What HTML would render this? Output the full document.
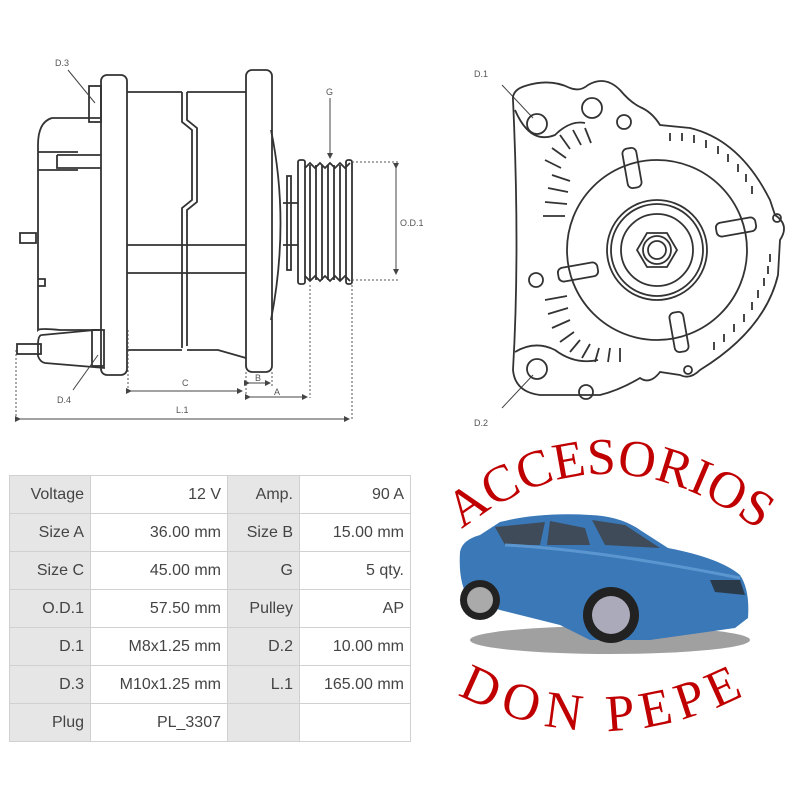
<!DOCTYPE html>
<html><head><meta charset="utf-8"><style>
html,body{margin:0;padding:0;background:#fff;width:800px;height:800px;overflow:hidden}
svg{display:block}
.l{fill:none;stroke:#333;stroke-width:1.8}
.t{font-family:"Liberation Sans",sans-serif;font-size:9px;fill:#555}
.d{fill:none;stroke:#555;stroke-width:1;stroke-dasharray:2 2}
.dm{stroke:#444;stroke-width:1;fill:none}
.tab td{font-family:"Liberation Sans",sans-serif;font-size:16px;color:#444;text-align:right;padding:0 6px;border:1px solid #d0d0d0;height:38px;box-sizing:border-box}
</style></head><body>
<svg width="800" height="800" viewBox="0 0 800 800" xmlns="http://www.w3.org/2000/svg" style="position:absolute;left:0;top:0">
<defs><marker id="ar" markerWidth="6" markerHeight="6" refX="5" refY="3" orient="auto"><path d="M0,0 L6,3 L0,6 z" fill="#444"/></marker></defs>
<g class="l">
<rect x="101" y="75" width="26" height="300" rx="6"/>
<rect x="246" y="70" width="26" height="302" rx="6"/>
<rect x="89" y="86" width="12" height="36"/>
<path d="M127,92 H182 M187,92 H246 M127,245 H246 M127,273 H246 M127,350 H182 M187,350 H218 L246,358"/>
<path d="M182,92 V122 L192,130 V200 L182,208 V348 M187,92 V120 L197,128 V202 L187,210 V346"/>
<path d="M101,118 H52 Q38,122 38,145 V330 Q40,328 60,330 H101"/>
<path d="M38,152 H78 M57,155 H101 M57,155 V168 H101 M38,170 H78"/>
<path d="M38,279 H45 V286 H38"/>
<rect x="20" y="233" width="16" height="10"/>
<path d="M42,335 Q38,335 38,345 V356 Q40,362 45,363 L105,368 M42,335 L95,330 H101"/>
<rect x="92" y="330" width="12" height="36"/>
<rect x="17" y="344" width="24" height="10"/>
<path d="M271,130 Q290,222 271,320"/>
<rect x="287" y="176" width="4" height="94"/>
<path d="M283,203 H298 M283,245 H298"/>
<rect x="298" y="160" width="7" height="124" rx="2"/>
<rect x="346" y="160" width="6" height="124" rx="2"/>
<path d="M305,168 l5,-5 5,5 5,-5 5,5 5,-5 5,5 5,-5 5,5 5,-5 M305,276 l5,5 5,-5 5,5 5,-5 5,5 5,-5 5,5 5,-5 5,5"/>
<path d="M310,165 V280 M316,165 V280 M322,165 V280 M328,165 V280 M334,165 V280 M340,165 V280"/>
</g>
<path class="d" d="M352,162 H400 M352,280 H400 M16,350 V420 M128,330 V392 M246,372 V400 M272,372 V388 M310,285 V398 M352,285 V420"/>
<path class="dm" d="M396,168 V274" marker-start="url(#ar)" marker-end="url(#ar)"/>
<path class="dm" d="M131,391 H242" marker-start="url(#ar)" marker-end="url(#ar)"/>
<path class="dm" d="M249,383 H270" marker-start="url(#ar)" marker-end="url(#ar)"/>
<path class="dm" d="M250,397 H307" marker-start="url(#ar)" marker-end="url(#ar)"/>
<path class="dm" d="M20,419 H349" marker-start="url(#ar)" marker-end="url(#ar)"/>
<path class="dm" d="M330,98 V158" marker-end="url(#ar)"/>
<path class="dm" d="M68,70 L95,103 M98,355 L73,390 M502,85 L533,118 M533,375 L502,408"/>
<text class="t" x="55" y="66">D.3</text><text class="t" x="326" y="95">G</text>
<text class="t" x="400" y="226">O.D.1</text><text class="t" x="57" y="403">D.4</text>
<text class="t" x="182" y="386">C</text><text class="t" x="255" y="381">B</text><text class="t" x="274" y="395">A</text>
<text class="t" x="176" y="413">L.1</text>
<text class="t" x="474" y="77">D.1</text><text class="t" x="474" y="426">D.2</text>
<g class="l">
<path d="M513,100 Q512,90 525,86 Q550,78 570,88 Q580,92 588,85 Q605,75 620,90 Q630,102 640,107 Q652,112 660,125 L690,128 Q740,140 770,200 L775,215 Q790,225 780,240 L778,275 Q765,330 700,370 Q690,380 680,375 L660,372 Q650,385 640,378 Q620,390 600,395 L540,395 Q515,392 513,370 Q520,250 513,100 Z"/>
<circle cx="537" cy="124" r="10"/><circle cx="537" cy="369" r="10"/>
<path d="M515,110 Q530,145 555,135 Q570,120 585,123"/>
<path d="M515,352 Q535,340 555,350 Q575,365 598,360"/>
<circle cx="592" cy="108" r="10"/><circle cx="624" cy="122" r="7"/>
<circle cx="536" cy="280" r="7"/><circle cx="586" cy="392" r="7" />
<circle cx="657" cy="250" r="90"/>
<circle cx="657" cy="250" r="50"/><circle cx="657" cy="250" r="46"/><circle cx="657" cy="250" r="36"/>
<polygon points="677,250 667,267 647,267 637,250 647,233 667,233"/>
<circle cx="657" cy="250" r="14"/><circle cx="657" cy="250" r="9"/>
<rect x="625" y="148" width="14" height="40" rx="5" transform="rotate(-10 632 168)"/>
<rect x="672" y="312" width="14" height="40" rx="5" transform="rotate(-10 679 332)"/>
<rect x="558" y="265" width="40" height="14" rx="5" transform="rotate(-10 578 272)"/>
<rect x="716" y="220" width="40" height="14" rx="5" transform="rotate(-10 736 227)"/>
<path d="M552,175 l18,6 M548,188 l20,4 M545,202 l22,2 M543,216 l22,0 M545,160 l16,8 M552,148 l14,10 M560,135 l10,14 M573,130 l8,15 M585,128 l6,15"/>
<path d="M545,300 l22,-4 M548,314 l20,-6 M552,328 l18,-8 M560,342 l14,-10 M570,352 l10,-12 M582,358 l8,-14 M595,362 l4,-14 M608,362 l2,-14 M620,362 l0,-14"/>
<path d="M670,133 v8 M682,133 v8 M694,135 v8 M706,140 v8 M718,146 v8 M728,154 v8 M738,164 v8 M746,174 v8 M752,186 v8 M758,298 v-8 M752,310 v-8 M744,322 v-8 M734,332 v-8 M724,342 v-8 M714,350 v-8 M764,286 v-8 M768,274 v-8 M770,262 v-8"/>
<circle cx="777" cy="218" r="4"/><circle cx="688" cy="370" r="4"/>
</g>
<ellipse cx="610" cy="640" rx="140" ry="14" fill="#777" opacity="0.7"/>
<path d="M460,552 Q462,540 480,535 L500,522 Q540,512 590,515 Q620,516 640,530 L668,548 Q720,558 740,575 Q750,590 748,618 L735,628 L650,640 L590,640 L560,625 L500,610 L470,600 Q458,585 460,552 Z" fill="#3a78b8"/>
<path d="M495,527 L505,545 L540,545 L545,522 Z M550,521 L547,545 L590,545 L585,528 Z M592,520 L605,545 L660,548 L625,525 Z" fill="#3f4b58"/>
<path d="M505,545 Q600,550 740,578" stroke="#5b96d0" stroke-width="3" fill="none"/>
<path d="M710,580 L740,580 L745,595 L715,592 Z" fill="#2a3a48"/>
<circle cx="480" cy="600" r="20" fill="#222"/><circle cx="480" cy="600" r="13" fill="#aaa"/>
<circle cx="611" cy="615" r="28" fill="#222"/><circle cx="611" cy="615" r="19" fill="#aab"/>
<path id="a1" d="M440,548 Q602,400 782,548" fill="none"/>
<path id="a2" d="M452,650 Q600,740 752,650" fill="none"/>
<text font-family="Liberation Serif,serif" font-size="52" fill="#c00000"><textPath href="#a1" startOffset="50%" text-anchor="middle">ACCESORIOS</textPath></text>
<text font-family="Liberation Serif,serif" font-size="52" fill="#c00000" letter-spacing="3"><textPath href="#a2" startOffset="50%" text-anchor="middle" dominant-baseline="hanging">DON PEPE</textPath></text>
</svg>
<table class="tab" style="position:absolute;left:9px;top:475px;border-collapse:collapse;width:402px">
<tr><td style="background:#e6e6e6;width:81px">Voltage</td><td style="width:137px">12 V</td><td style="background:#e6e6e6;width:72px">Amp.</td><td>90 A</td></tr>
<tr><td style="background:#e6e6e6">Size A</td><td>36.00 mm</td><td style="background:#e6e6e6">Size B</td><td>15.00 mm</td></tr>
<tr><td style="background:#e6e6e6">Size C</td><td>45.00 mm</td><td style="background:#e6e6e6">G</td><td>5 qty.</td></tr>
<tr><td style="background:#e6e6e6">O.D.1</td><td>57.50 mm</td><td style="background:#e6e6e6">Pulley</td><td>AP</td></tr>
<tr><td style="background:#e6e6e6">D.1</td><td>M8x1.25 mm</td><td style="background:#e6e6e6">D.2</td><td>10.00 mm</td></tr>
<tr><td style="background:#e6e6e6">D.3</td><td>M10x1.25 mm</td><td style="background:#e6e6e6">L.1</td><td>165.00 mm</td></tr>
<tr><td style="background:#e6e6e6">Plug</td><td>PL_3307</td><td style="background:#e6e6e6"></td><td></td></tr>
</table>
</body></html>
